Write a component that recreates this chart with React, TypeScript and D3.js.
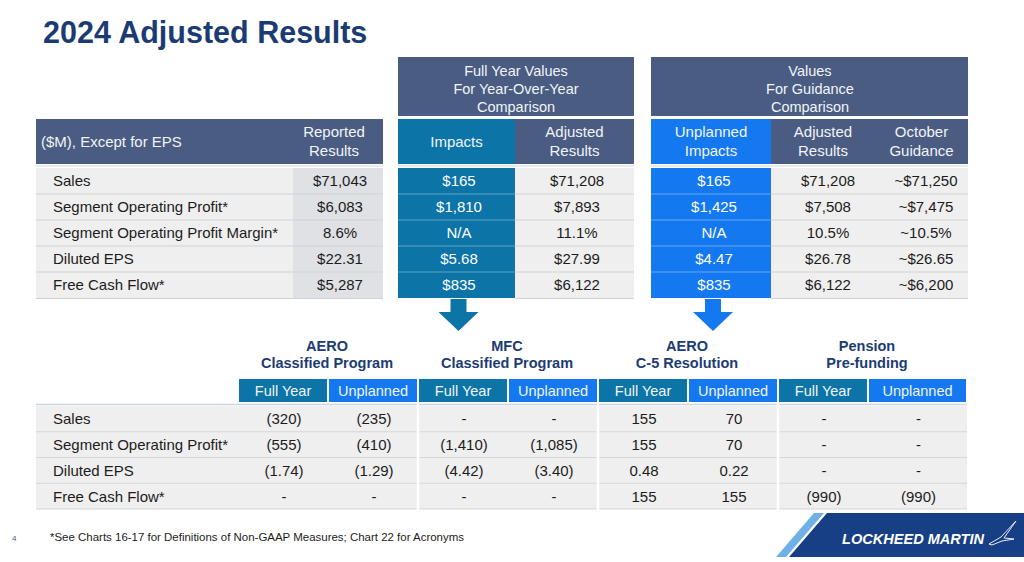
import React from "react";
import * as d3 from "d3";

const W = 1024;
const H = 562;
const FONT = "'Liberation Sans', Arial, Helvetica, sans-serif";

const title = "2024 Adjusted Results";

// Top table
const topRowLabels = [
  "Sales",
  "Segment Operating Profit*",
  "Segment Operating Profit Margin*",
  "Diluted EPS",
  "Free Cash Flow*",
];
const reportedResults = ["$71,043", "$6,083", "8.6%", "$22.31", "$5,287"];
const fyImpacts = ["$165", "$1,810", "N/A", "$5.68", "$835"];
const fyAdjusted = ["$71,208", "$7,893", "11.1%", "$27.99", "$6,122"];
const unplannedImpacts = ["$165", "$1,425", "N/A", "$4.47", "$835"];
const guidanceAdjusted = ["$71,208", "$7,508", "10.5%", "$26.78", "$6,122"];
const octoberGuidance = ["~$71,250", "~$7,475", "~10.5%", "~$26.65", "~$6,200"];

const leftHeaderLabel = "($M), Except for EPS";
const fySuperHeader = ["Full Year Values", "For Year-Over-Year", "Comparison"];
const guidSuperHeader = ["Values", "For Guidance", "Comparison"];

// Bottom table
const bottomRowLabels = ["Sales", "Segment Operating Profit*", "Diluted EPS", "Free Cash Flow*"];
const bottomGroups = [
  ["AERO", "Classified Program"],
  ["MFC", "Classified Program"],
  ["AERO", "C-5 Resolution"],
  ["Pension", "Pre-funding"],
];
const bottomSubCols = ["Full Year", "Unplanned"];
const aeroClassifiedFullYear = ["(320)", "(555)", "(1.74)", "-"];
const aeroClassifiedUnplanned = ["(235)", "(410)", "(1.29)", "-"];
const mfcClassifiedFullYear = ["-", "(1,410)", "(4.42)", "-"];
const mfcClassifiedUnplanned = ["-", "(1,085)", "(3.40)", "-"];
const c5FullYear = ["155", "155", "0.48", "155"];
const c5Unplanned = ["70", "70", "0.22", "155"];
const pensionFullYear = ["-", "-", "-", "(990)"];
const pensionUnplanned = ["-", "-", "-", "(990)"];

const footnote = "*See Charts 16-17 for Definitions of Non-GAAP Measures; Chart 22 for Acronyms";
const pageNumber = "4";
const logoText = "LOCKHEED MARTIN";

// Colors
const SLATE = "#4a5c82";
const TEAL = "#0c74a7";
const BLUE = "#1479f0";
const NAVY = "#1b3c73";
const GRAY = "#efefef";
const GRAY2 = "#dfe1e5";
const HDR_TXT = "#f1f4f8";
const TXT = "#1c1c1c";

type Col = {
  x0: number;
  x1: number;
  fill: string;
  values: string[];
  cx: number;
  color: string;
  header: string[];
  headerFill: string;
};

export default function App() {
  const rowIdx = d3.range(topRowLabels.length);
  const yTop = d3.scaleBand<number>().domain(rowIdx).range([168, 298]).paddingInner(0);
  const hdrY0 = 119;
  const hdrY1 = 164;
  const superY0 = 57;
  const superY1 = 116;

  const cols: Col[] = [
    { x0: 293, x1: 383, fill: GRAY2, values: reportedResults, cx: 340, color: TXT, header: ["Reported", "Results"], headerFill: SLATE },
    { x0: 398, x1: 515, fill: TEAL, values: fyImpacts, cx: 459, color: "#ffffff", header: ["Impacts"], headerFill: TEAL },
    { x0: 515, x1: 634, fill: GRAY, values: fyAdjusted, cx: 577, color: TXT, header: ["Adjusted", "Results"], headerFill: SLATE },
    { x0: 651, x1: 771, fill: BLUE, values: unplannedImpacts, cx: 714, color: "#ffffff", header: ["Unplanned", "Impacts"], headerFill: BLUE },
    { x0: 771, x1: 875, fill: GRAY, values: guidanceAdjusted, cx: 828, color: TXT, header: ["Adjusted", "Results"], headerFill: SLATE },
    { x0: 875, x1: 968, fill: GRAY, values: octoberGuidance, cx: 926, color: TXT, header: ["October", "Guidance"], headerFill: SLATE },
  ];

  const headerLines = (lines: string[], cx: number, cy: number, gap: number, fill: string, size = 15, weight = 400) =>
    lines.map((t, i) => (
      <text
        key={i}
        x={cx}
        y={cy + (i - (lines.length - 1) / 2) * gap}
        dy="0.36em"
        textAnchor="middle"
        fill={fill}
        fontSize={size}
        fontWeight={weight}
        fontFamily={FONT}
      >
        {t}
      </text>
    ));

  // bottom table
  const bottomCols = [
    aeroClassifiedFullYear,
    aeroClassifiedUnplanned,
    mfcClassifiedFullYear,
    mfcClassifiedUnplanned,
    c5FullYear,
    c5Unplanned,
    pensionFullYear,
    pensionUnplanned,
  ];
  const colIdx = d3.range(bottomCols.length);
  const xB = d3.scaleBand<number>().domain(colIdx).range([238, 958]).paddingInner(0);
  const bRight = 967;
  const colX0 = (ci: number) => xB(ci)!;
  const colX1 = (ci: number) => (ci === colIdx.length - 1 ? bRight : xB(ci)! + xB.bandwidth());
  const bRowIdx = d3.range(bottomRowLabels.length);
  const yB = d3.scaleBand<number>().domain(bRowIdx).range([406, 509]);
  const subY0 = 379;
  const subY1 = 402;

  const arrow = (cx: number, color: string) => {
    const p = d3.path();
    p.moveTo(cx - 8, 299);
    p.lineTo(cx + 8, 299);
    p.lineTo(cx + 8, 312);
    p.lineTo(cx + 20, 312);
    p.lineTo(cx, 331);
    p.lineTo(cx - 20, 312);
    p.lineTo(cx - 8, 312);
    p.closePath();
    return <path d={p.toString()} fill={color} />;
  };

  return (
    <svg
      width={W}
      height={H}
      viewBox={`0 0 ${W} ${H}`}
      style={{ position: "absolute", left: 0, top: 0, background: "#ffffff" }}
      fontFamily={FONT}
    >
      <rect x={0} y={0} width={W} height={H} fill="#ffffff" />
      {/* Title */}
      <text x={43} y={43} fill={NAVY} fontSize={30.5} fontWeight={700} fontFamily={FONT}>
        {title}
      </text>

      {/* Super headers */}
      <rect x={398} y={superY0} width={634 - 398} height={superY1 - superY0} fill={SLATE} />
      {headerLines(fySuperHeader, 516, 89, 18, HDR_TXT, 14.5)}
      <rect x={651} y={superY0} width={968 - 651} height={superY1 - superY0} fill={SLATE} />
      {headerLines(guidSuperHeader, 810, 89, 18, HDR_TXT, 14.5)}

      {/* Header row */}
      <rect x={36} y={hdrY0} width={383 - 36} height={hdrY1 - hdrY0} fill={SLATE} />
      <text x={41} y={(hdrY0 + hdrY1) / 2} dy="0.36em" fill={HDR_TXT} fontSize={15} fontFamily={FONT}>
        {leftHeaderLabel}
      </text>
      {cols.map((c, i) => (
        <g key={i}>
          <rect x={c.x0} y={hdrY0} width={c.x1 - c.x0} height={hdrY1 - hdrY0} fill={c.headerFill} />
          {headerLines(c.header, (c.x0 + c.x1) / 2 - (i === 0 ? 4 : 0), (hdrY0 + hdrY1) / 2, 19, HDR_TXT, 15)}
        </g>
      ))}
      {/* separator lines under header */}
      {[
        [36, 383],
        [398, 634],
        [651, 968],
      ].map(([a, b], i) => (
        <line key={i} x1={a} x2={b} y1={166} y2={166} stroke="#c8d5e5" strokeWidth={1.2} />
      ))}

      {/* Data rows top table */}
      <rect x={36} y={yTop(0)!} width={293 - 36} height={yTop.bandwidth() * rowIdx.length} fill={GRAY} />
      {cols.map((c, i) => (
        <rect key={i} x={c.x0} y={yTop(0)!} width={c.x1 - c.x0} height={yTop.bandwidth() * rowIdx.length} fill={c.fill} />
      ))}
      {/* row lines */}
      {rowIdx.slice(1).map((r) => {
        const y = yTop(r)!;
        return (
          <g key={r}>
            <line x1={36} x2={383} y1={y} y2={y} stroke="#cfd3d9" strokeWidth={1.2} />
            <line x1={398} x2={515} y1={y} y2={y} stroke="#ffffff" strokeOpacity={0.35} strokeWidth={1.2} />
            <line x1={515} x2={634} y1={y} y2={y} stroke="#cfd3d9" strokeWidth={1.2} />
            <line x1={651} x2={771} y1={y} y2={y} stroke="#ffffff" strokeOpacity={0.35} strokeWidth={1.2} />
            <line x1={771} x2={968} y1={y} y2={y} stroke="#cfd3d9" strokeWidth={1.2} />
          </g>
        );
      })}
      {[
        [36, 383],
        [515, 634],
        [771, 968],
      ].map(([a, b], i) => (
        <line key={i} x1={a} x2={b} y1={298.5} y2={298.5} stroke="#cfd3d9" strokeWidth={1.2} />
      ))}
      {topRowLabels.map((l, r) => (
        <text key={r} x={53} y={yTop(r)! + yTop.bandwidth() / 2} dy="0.36em" fill={TXT} fontSize={15} fontFamily={FONT}>
          {l}
        </text>
      ))}
      {cols.map((c, i) =>
        c.values.map((v, r) => (
          <text
            key={`${i}-${r}`}
            x={c.cx}
            y={yTop(r)! + yTop.bandwidth() / 2}
            dy="0.36em"
            textAnchor="middle"
            fill={c.color}
            fontSize={15}
            fontFamily={FONT}
          >
            {v}
          </text>
        ))
      )}

      {/* Arrows */}
      {arrow((398 + 515) / 2 + 2, TEAL)}
      {arrow((651 + 771) / 2 + 2, BLUE)}

      {/* Bottom table group titles */}
      {bottomGroups.map((g, gi) => {
        const cx = xB(gi * 2)! + xB.bandwidth();
        return <g key={gi}>{headerLines(g, cx - 1, 354.5, 17.5, NAVY, 14.5, 700)}</g>;
      })}
      {/* Sub headers */}
      {colIdx.map((ci) => (
        <g key={ci}>
          <rect
            x={colX0(ci) + 1}
            y={subY0}
            width={colX1(ci) - colX0(ci) - 2}
            height={subY1 - subY0}
            fill={ci % 2 === 0 ? TEAL : BLUE}
          />
          <text
            x={(colX0(ci) + colX1(ci)) / 2}
            y={(subY0 + subY1) / 2}
            dy="0.36em"
            textAnchor="middle"
            fill={HDR_TXT}
            fontSize={14.5}
            fontFamily={FONT}
          >
            {bottomSubCols[ci % 2]}
          </text>
        </g>
      ))}
      {/* Bottom data */}
      <rect x={36} y={yB(0)!} width={bRight - 36} height={yB.bandwidth() * bRowIdx.length} fill={GRAY} />
      <line x1={36} x2={bRight} y1={404.5} y2={404.5} stroke="#c8d5e5" strokeWidth={1.5} />
      {bRowIdx.slice(1).map((r) => (
        <line key={r} x1={36} x2={bRight} y1={yB(r)!} y2={yB(r)!} stroke="#d3d6db" strokeWidth={1.2} />
      ))}
      <line x1={36} x2={bRight} y1={509} y2={509} stroke="#d3d6db" strokeWidth={1.2} />
      {[2, 4, 6].map((ci) => (
        <line key={ci} x1={xB(ci)!} x2={xB(ci)!} y1={403} y2={510} stroke="#ffffff" strokeWidth={2.5} />
      ))}
      {bottomRowLabels.map((l, r) => (
        <text key={r} x={53} y={yB(r)! + yB.bandwidth() / 2} dy="0.36em" fill={TXT} fontSize={15} fontFamily={FONT}>
          {l}
        </text>
      ))}
      {bottomCols.map((vals, ci) =>
        vals.map((v, r) => (
          <text
            key={`${ci}-${r}`}
            x={(colX0(ci) + colX1(ci)) / 2 + 1}
            y={yB(r)! + yB.bandwidth() / 2}
            dy="0.36em"
            textAnchor="middle"
            fill={TXT}
            fontSize={15}
            fontFamily={FONT}
          >
            {v}
          </text>
        ))
      )}

      {/* Footer */}
      <text x={12} y={541} fill="#4a5c82" fontSize={8} fontFamily={FONT}>
        {pageNumber}
      </text>
      <text
        x={50}
        y={541}
        fill={TXT}
        fontSize={11.5}
        fontFamily="'Liberation Sans Narrow', 'Arial Narrow', 'Liberation Sans', Arial, sans-serif"
        textLength={414}
        lengthAdjust="spacingAndGlyphs"
      >
        {footnote}
      </text>
      <polygon points="776,557 786,557 824,513 814,513" fill="#6fb0e6" />
      <polygon points="789,557 1024,557 1024,513 827,513" fill="#163f86" />
      <text
        x={842}
        y={544}
        fill="#ffffff"
        fontSize={14}
        fontWeight={700}
        fontStyle="italic"
        fontFamily={FONT}
        textLength={142}
        lengthAdjust="spacingAndGlyphs"
      >
        {logoText}
      </text>
      <path
        d="M989,544 L1001,537 L1016,521 L1004,538 L1014,539 L1002,541 L992,545 Z"
        fill="none"
        stroke="#ffffff"
        strokeWidth={0.9}
      />
    </svg>
  );
}
